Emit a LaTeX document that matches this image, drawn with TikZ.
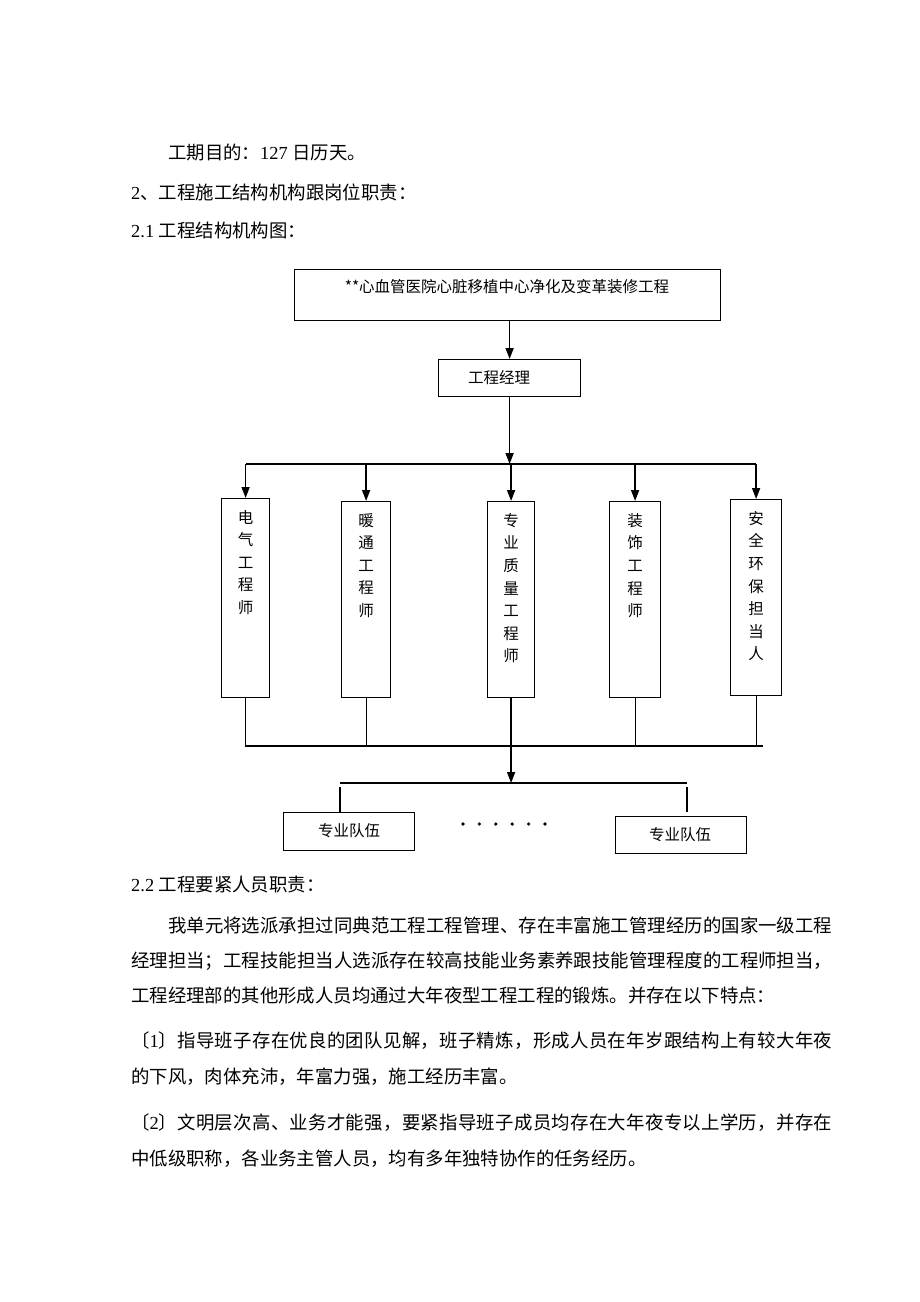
\documentclass[tikz,border=0pt]{standalone}
\usepackage{fontspec}
\setmainfont{Liberation Serif}
\newfontfamily\cjk{Noto Sans CJK SC}
\usetikzlibrary{arrows.meta}
\makeatletter
\newXeTeXintercharclass\myhan
\count@="3000
\loop \XeTeXcharclass\count@=\myhan \ifnum\count@<"9FFF \advance\count@\@ne \repeat
\count@="FF00
\loop \XeTeXcharclass\count@=\myhan \ifnum\count@<"FFEF \advance\count@\@ne \repeat
\makeatother
\XeTeXinterchartoks\myhan\myhan={\hskip0pt plus 3pt\relax}
\XeTeXinterchartoks 0 \myhan={\hskip0pt plus 3pt\relax}
\XeTeXinterchartoks\myhan 0 ={\hskip0pt plus 3pt\relax}
\XeTeXinterchartokenstate=1
\begin{document}
\begin{tikzpicture}[x=1pt,y=-1pt,
  body/.style={anchor=base west, inner sep=0pt, font=\cjk\fontsize{18.4}{22}\selectfont},
  box/.style={draw, line width=1.2pt, inner sep=0pt, anchor=north west},
  lbl/.style={inner sep=0pt, font=\cjk\fontsize{15.5}{22.6}\selectfont, align=center},
  ln/.style={line width=1.2pt},
  arr/.style={line width=1.6pt, -{Triangle[length=11pt,width=8pt]}}]
\fill[white] (0,0) rectangle (920,1302);
\useasboundingbox (0,0) rectangle (920,1302);

% heading text
\node[body] (t1) at (168,159) {工期目的：{\rmfamily 127 }日历天。};
\node[body] (t2) at (131,199) {{\rmfamily 2}、工程施工结构机构跟岗位职责：};
\node[body] (t3) at (131,237) {{\rmfamily 2.1 }工程结构机构图：};

% chart
\node[box, minimum width=426pt, minimum height=51pt] (top) at (294,269) {};
\node[lbl] (topt) at (507,287) {**心血管医院心脏移植中心净化及变革装修工程};
\node[box, minimum width=142pt, minimum height=37pt] (pm) at (438,359) {};
\node[lbl] (pmt) at (499,377.5) {工程经理};
\draw[arr] (top.south -| pm.north) -- (pm.north);

\node[box, minimum width=48pt, minimum height=199pt] (e1) at (221,498) {};
\node[box, minimum width=49pt, minimum height=196pt] (e2) at (341,501) {};
\node[box, minimum width=47pt, minimum height=196pt] (e3) at (487,501) {};
\node[box, minimum width=51pt, minimum height=196pt] (e4) at (609,501) {};
\node[box, minimum width=51pt, minimum height=196pt] (e5) at (730,499) {};
\node[lbl, anchor=north] (e1t) at ([yshift=-12pt]e1.north) {电\\气\\工\\程\\师};
\node[lbl, anchor=north] (e2t) at ([yshift=-12pt]e2.north) {暖\\通\\工\\程\\师};
\node[lbl, anchor=north] (e3t) at ([yshift=-12pt]e3.north) {专\\业\\质\\量\\工\\程\\师};
\node[lbl, anchor=north] (e4t) at ([yshift=-12pt]e4.north) {装\\饰\\工\\程\\师};
\node[lbl, anchor=north] (e5t) at ([yshift=-12pt]e5.north) {安\\全\\环\\保\\担\\当\\人};

\coordinate (j1) at (510,464);
\draw[arr] (pm.south) -- (pm.south |- j1);
\draw[ln] (e1.north |- j1) -- (e5.north |- j1);
\foreach \n in {e1,e2,e3,e4,e5} {
  \draw[arr] (\n.north |- j1) -- (\n.north);
}

\coordinate (j2) at (510,746);
\coordinate (j2r) at (763,746);
\draw[ln] (e1.south) -- (e1.south |- j2) -- (j2r);
\draw[ln] (e2.south) -- ([yshift=1pt]e2.south |- j2);
\draw[ln] (e4.south) -- ([yshift=1pt]e4.south |- j2);
\draw[ln] (e5.south) -- ([yshift=1pt]e5.south |- j2);
\coordinate (j3) at (510,783);
\draw[arr] (e3.south) -- (e3.south |- j3);

\coordinate (bl) at (340,783);
\coordinate (br) at (687,783);
\draw[ln] (bl) -- (br);
\node[box, minimum width=131pt, minimum height=38pt] (q1) at (283,812) {};
\node[lbl] (q1t) at (349,831) {专业队伍};
\node[box, minimum width=131pt, minimum height=37pt] (q2) at (615,816) {};
\node[lbl] (q2t) at (680,834.5) {专业队伍};
\draw[ln] ([yshift=-4pt]bl) -- (bl |- q1.north);
\draw[ln] ([yshift=-4pt]br) -- ([yshift=4pt]br |- q2.north);
\foreach \i in {0,...,5} { \fill (463+16.4*\i,824) circle (1.8pt); }

% body text
\node[body] (t4) at (131,891) {{\rmfamily 2.2 }工程要紧人员职责：};
\node[body] (p1) at (168,932) {\hbox to 664pt{我单元将选派承担过同典范工程工程管理、存在丰富施工管理经历的国家一级工程}};
\node[body] (p2) at (131,967) {\hbox to 701pt{经理担当；工程技能担当人选派存在较高技能业务素养跟技能管理程度的工程师担当，}};
\node[body] (p3) at (131,1002) {工程经理部的其他形成人员均通过大年夜型工程工程的锻炼。并存在以下特点：};
\node[body] (p4) at (131,1047) {\hbox to 701pt{〔{\rmfamily 1}〕指导班子存在优良的团队见解，班子精炼，形成人员在年岁跟结构上有较大年夜}};
\node[body] (p5) at (131,1083) {的下风，肉体充沛，年富力强，施工经历丰富。};
\node[body] (p6) at (131,1129) {\hbox to 701pt{〔{\rmfamily 2}〕文明层次高、业务才能强，要紧指导班子成员均存在大年夜专以上学历，并存在}};
\node[body] (p7) at (131,1165) {中低级职称，各业务主管人员，均有多年独特协作的任务经历。};
\end{tikzpicture}
\end{document}
